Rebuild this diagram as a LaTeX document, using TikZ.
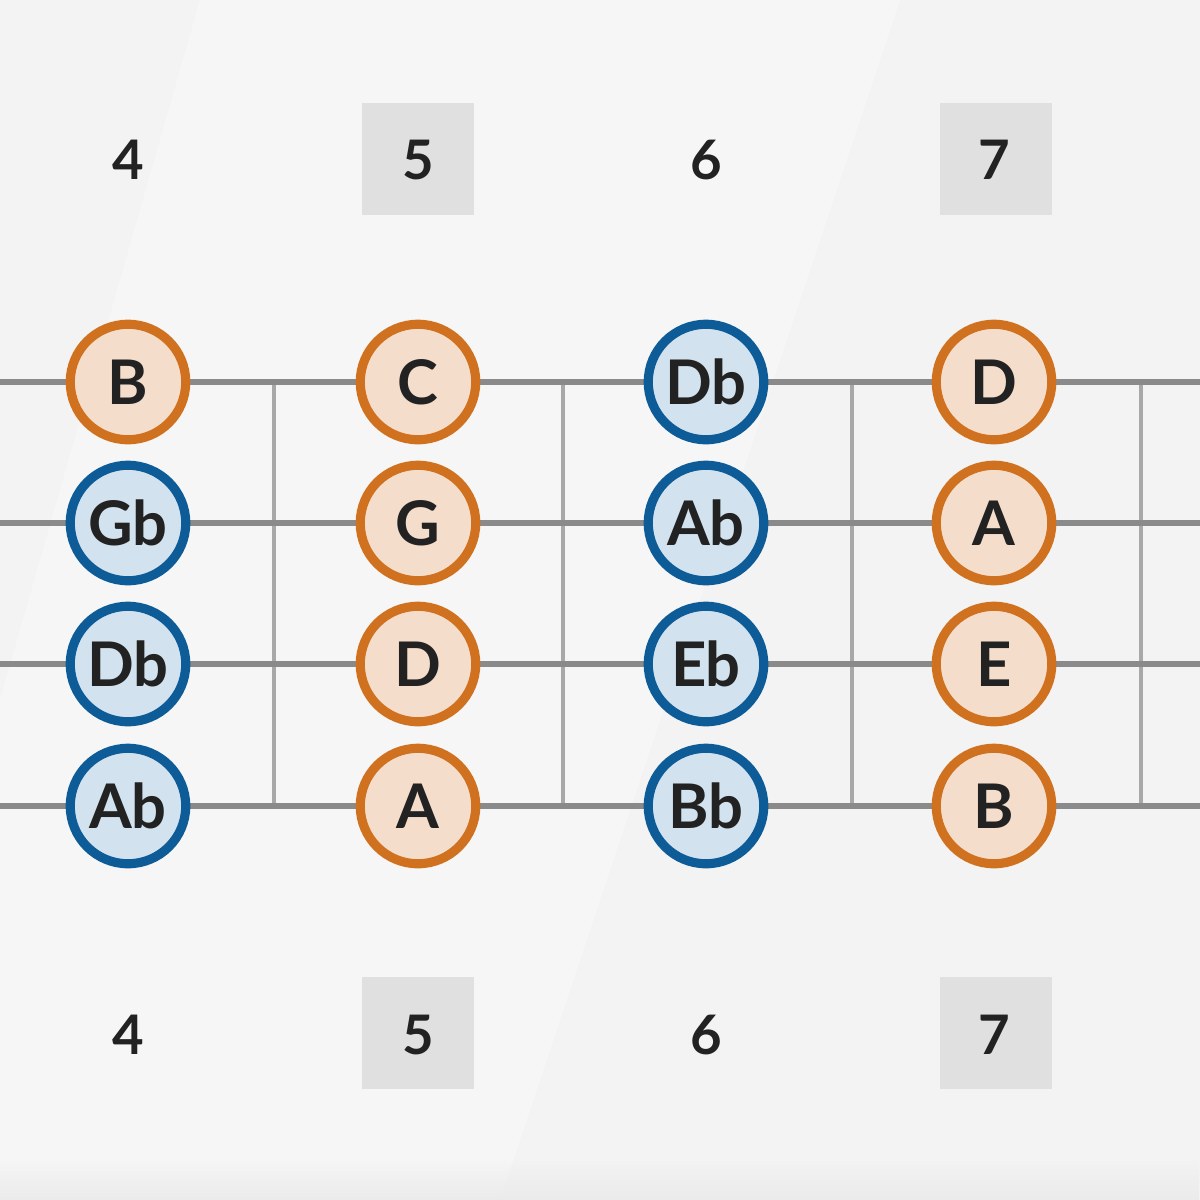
\documentclass[tikz,border=0pt]{standalone}
\usepackage{fontspec}
\setmainfont{Lato}
\usetikzlibrary{fadings}
\definecolor{paper}{HTML}{F3F3F3}
\definecolor{stringc}{HTML}{8A8A8A}
\definecolor{fretc}{HTML}{A8A8A8}
\definecolor{orb}{HTML}{D0711F}
\definecolor{orf}{HTML}{F5DDCB}
\definecolor{blb}{HTML}{0D5C98}
\definecolor{blf}{HTML}{D2E2EE}
\definecolor{txt}{HTML}{222222}
\definecolor{marker}{HTML}{E0E0E0}
\tikzset{
  onote/.style={circle, draw=orb, fill=orf, line width=2.6pt, minimum size=115.5*0.01cm, inner sep=0pt, text=txt, font=\fontsize{17.5}{17.5}\selectfont\bfseries},
  bnote/.style={circle, draw=blb, fill=blf, line width=2.6pt, minimum size=115.5*0.01cm, inner sep=0pt, text=txt, font=\fontsize{17.5}{17.5}\selectfont\bfseries},
  fretnum/.style={text=txt, font=\fontsize{15.5}{15.5}\selectfont\bfseries},
  markbox/.style={fill=marker, minimum size=112*0.01cm, inner sep=0pt},
  stringline/.style={draw=stringc, line width=1.5pt},
  fretline/.style={draw=fretc, line width=1.2pt}
}
\newcommand{\fl}{\kern-0.02em b}
\begin{document}
\begin{tikzpicture}[x=0.01cm,y=-0.01cm]
\useasboundingbox (0,0) rectangle (1200,1200);
\fill[paper] (0,0) rectangle (1200,1200);
\fill[white, opacity=0.3] (200,0) -- (900,0) -- (500,1200) -- (0,1200) -- (0,700) -- cycle;
\fill[black!8, path fading=north] (0,1160) rectangle (1200,1200);
% fret markers
\node[markbox] (m5t) at (418,159) {};
\node[markbox] (m7t) at (996,159) {};
\node[markbox] (m5b) at (418,1033) {};
\node[markbox] (m7b) at (996,1033) {};
% fret numbers
\node[fretnum] (t4) at (128,160) {4};
\node[fretnum] (t5) at (418,160) {5};
\node[fretnum] (t6) at (706,160) {6};
\node[fretnum] (t7) at (994,160) {7};
\node[fretnum] (b4) at (128,1035) {4};
\node[fretnum] (b5) at (418,1035) {5};
\node[fretnum] (b6) at (706,1035) {6};
\node[fretnum] (b7) at (994,1035) {7};
% string ends
\foreach \i/\y in {1/382,2/523,3/664,4/806}{
  \coordinate (sl\i) at (0,\y);
  \coordinate (sr\i) at (1200,\y);
}
\foreach \j/\x in {1/274,2/563,3/852,4/1141}{
  \coordinate (ft\j) at (\x,382);
  \coordinate (fb\j) at (\x,806);
  \draw[fretline] (ft\j) -- (fb\j);
}
\foreach \i in {1,2,3,4}{\draw[stringline] (sl\i) -- (sr\i);}
% notes
\node[onote] (n11) at (128,382) {B};
\node[bnote] (n21) at (128,523) {G\fl};
\node[bnote] (n31) at (128,664) {D\fl};
\node[bnote] (n41) at (128,806) {A\fl};
\node[onote] (n12) at (418,382) {C};
\node[onote] (n22) at (418,523) {G};
\node[onote] (n32) at (418,664) {D};
\node[onote] (n42) at (418,806) {A};
\node[bnote] (n13) at (706,382) {D\fl};
\node[bnote] (n23) at (706,523) {A\fl};
\node[bnote] (n33) at (706,664) {E\fl};
\node[bnote] (n43) at (706,806) {B\fl};
\node[onote] (n14) at (994,382) {D};
\node[onote] (n24) at (994,523) {A};
\node[onote] (n34) at (994,664) {E};
\node[onote] (n44) at (994,806) {B};
\end{tikzpicture}
\end{document}
